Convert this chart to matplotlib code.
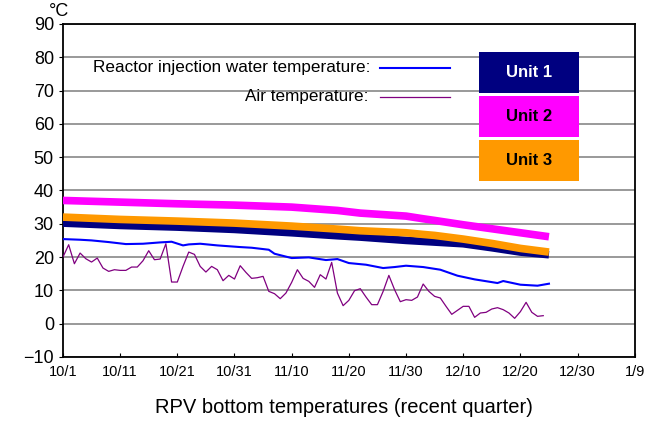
import matplotlib
matplotlib.use("Agg")
import matplotlib.pyplot as plt
from matplotlib.patches import Rectangle

# ==========================================
# DATA (days counted from 10/1)
# ==========================================
tick_days = [0, 10, 20, 30, 40, 50, 60, 70, 80, 90, 100]
tick_labels = ["10/1", "10/11", "10/21", "10/31", "11/10", "11/20",
               "11/30", "12/10", "12/20", "12/30", "1/9"]

unit_days = [0, 10, 20, 30, 40, 48, 52, 60, 63, 65, 70, 75, 80, 85]
unit1 = [30.2, 29.5, 29.0, 28.3, 27.3, 26.4, 26.0, 25.0, 24.7, 24.5, 24.0, 22.8, 21.5, 20.7]
unit2 = [37.0, 36.5, 36.0, 35.6, 35.0, 34.0, 33.2, 32.3, 31.5, 31.0, 29.7, 28.5, 27.3, 26.1]
unit3 = [32.0, 31.3, 30.8, 30.2, 29.3, 28.4, 27.9, 27.3, 26.8, 26.5, 25.4, 24.1, 22.6, 21.5]

inj_days = [0, 3, 5, 8, 11, 14, 17, 19, 21, 22, 24, 27, 31, 33, 36, 37, 40, 43, 46,
            48, 50, 53, 56, 58, 60, 63, 66, 69, 72, 76, 77, 80, 83, 85]
inj_temp = [25.4, 25.2, 25.0, 24.5, 23.9, 24.0, 24.4, 24.6, 23.5, 23.8, 24.0, 23.5, 23.0,
            22.8, 22.2, 21.0, 19.7, 19.9, 19.1, 19.4, 18.2, 17.7, 16.7, 17.0, 17.4, 17.0,
            16.2, 14.4, 13.3, 12.2, 12.8, 11.7, 11.4, 12.0]

air_temp = [20.0, 23.7, 18.0, 21.2, 19.5, 18.5, 19.7, 16.7, 15.7, 16.2, 16.0, 16.0, 17.0,
            17.0, 18.9, 21.9, 19.2, 19.4, 24.0, 12.5, 12.5, 17.2, 21.5, 20.8, 17.2, 15.5,
            17.2, 16.2, 12.9, 14.5, 13.4, 17.4, 15.4, 13.6, 13.8, 14.2, 9.7, 9.0, 7.5, 9.2,
            12.4, 16.2, 13.6, 12.7, 10.9, 14.7, 13.4, 18.4, 9.2, 5.4, 7.0, 9.9, 10.5, 8.0,
            5.7, 5.7, 9.7, 14.5, 10.2, 6.6, 7.2, 7.0, 8.0, 11.9, 9.7, 8.2, 7.7, 5.2, 2.8,
            4.0, 5.2, 5.2, 1.9, 3.2, 3.4, 4.4, 4.8, 4.2, 3.2, 1.6, 3.6, 6.4, 3.4, 2.2, 2.4]
air_days = list(range(len(air_temp)))

# ==========================================
# STYLE
# ==========================================
plt.rcParams['font.family'] = ['Liberation Sans', 'DejaVu Sans']

fig = plt.figure(figsize=(6.49, 4.28), dpi=100)
ax = fig.add_axes([0.097, 0.166, 0.881, 0.778])

ax.set_xlim(0, 100)
ax.set_ylim(-10, 90)
ax.set_yticks(range(-10, 91, 10))
ax.set_xticks(tick_days)
ax.set_xticklabels(tick_labels, fontsize=10.5)
ax.tick_params(axis='y', labelsize=13, direction='out', length=3)
ax.tick_params(axis='x', direction='in', length=3, pad=6)
ax.grid(axis='y', color='#888888', linewidth=1.2)
for s in ax.spines.values():
    s.set_linewidth(1.3)

# Unit bands
ax.plot(unit_days, unit2, color='#ff00ff', lw=5.5, solid_capstyle='butt', zorder=3)
ax.plot(unit_days, unit1, color='#000080', lw=5.5, solid_capstyle='butt', zorder=3)
ax.plot(unit_days, unit3, color='#ff9900', lw=5.5, solid_capstyle='butt', zorder=4)

# Thin lines
ax.plot(inj_days, inj_temp, color='#0000ff', lw=1.5, zorder=5)
ax.plot(air_days, air_temp, color='#800080', lw=0.9, zorder=5)

# Legend texts with line samples
ax.text(5.2, 76.8, "Reactor injection water temperature:",
        fontsize=12.3, va='center', ha='left')
ax.plot([55.4, 67.7], [76.8, 76.8], color='#0000ff', lw=1.5)
ax.text(31.8, 68.1, "Air temperature:", fontsize=12.3, va='center', ha='left')
ax.plot([55.4, 67.7], [68.1, 68.1], color='#800080', lw=0.9)

# Unit boxes
units = [("Unit 1", '#000080', 'white', 69.4),
         ("Unit 2", '#ff00ff', 'black', 56.2),
         ("Unit 3", '#ff9900', 'black', 42.9)]
for name, fc, tc, ybot in units:
    ax.add_patch(Rectangle((72.7, ybot), 17.6, 12.2, facecolor=fc, edgecolor='none', zorder=6))
    ax.text(81.5, ybot + 6.1, name, color=tc, fontsize=12, fontweight='bold',
            ha='center', va='center', zorder=7)

fig.text(0.076, 0.992, "°C", fontsize=13, ha='left', va='top')
fig.text(0.53, 0.035, "RPV bottom temperatures (recent quarter)", fontsize=14.5, ha='center')

fig.savefig("out.png", dpi=100)
